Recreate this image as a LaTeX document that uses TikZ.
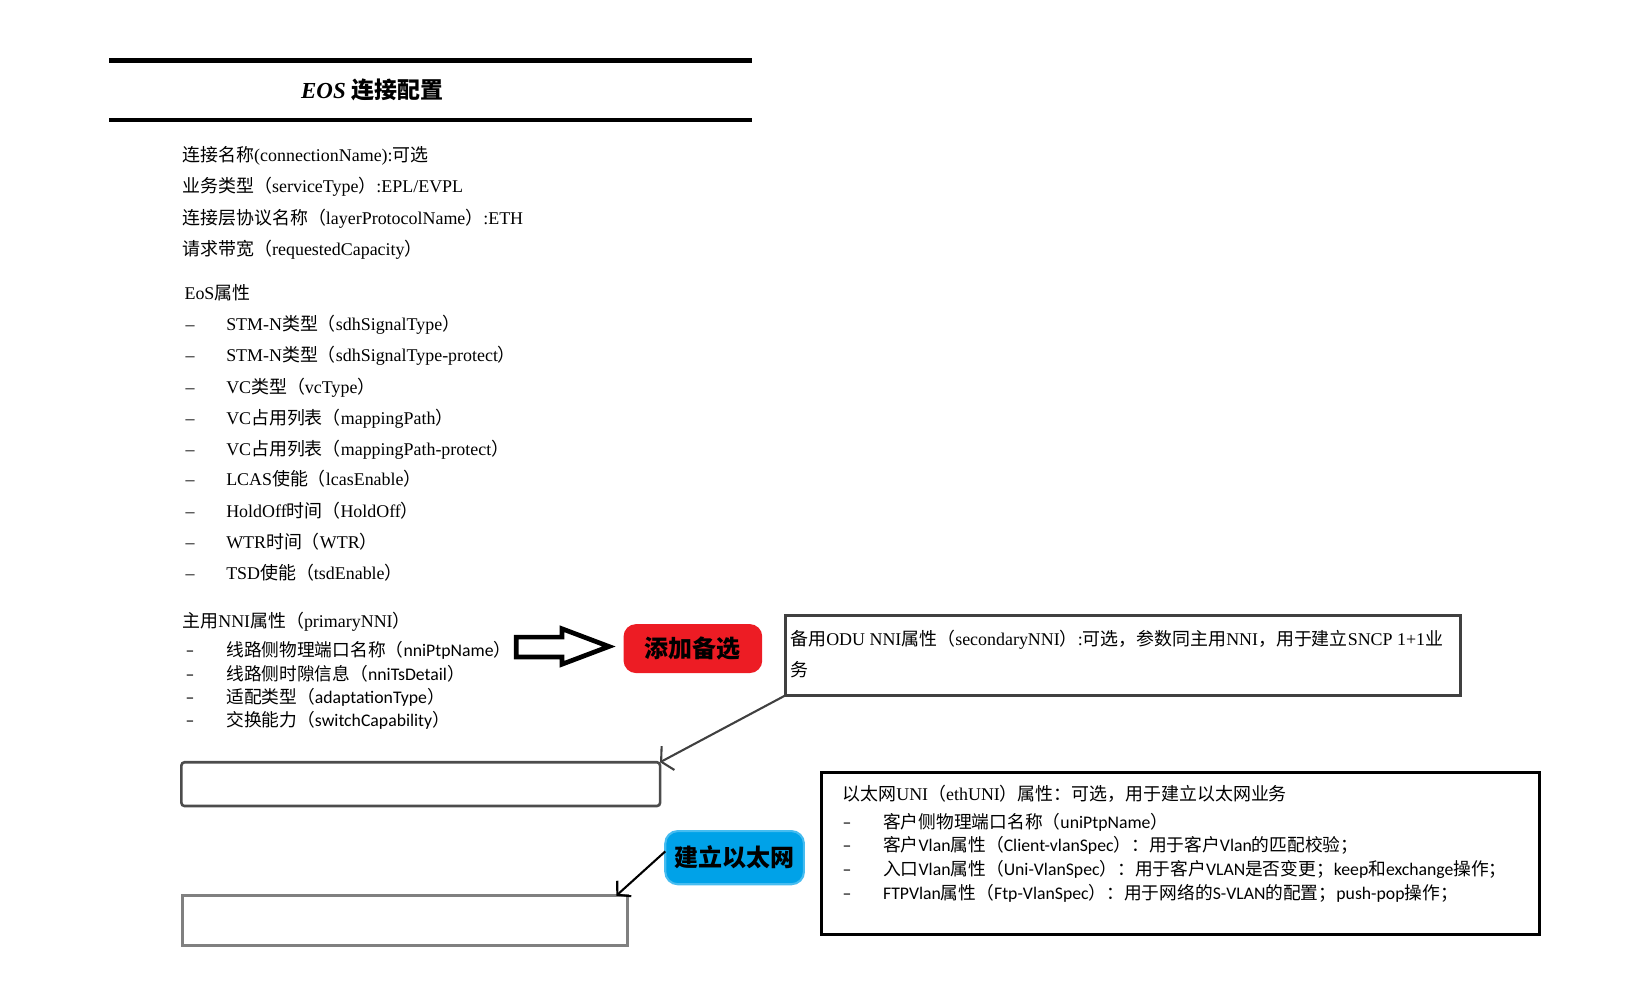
\documentclass[tikz,border=0pt]{standalone}
\usepackage{fontspec}
\setmainfont{Liberation Serif}
\newfontfamily\zhfont{Noto Sans CJK SC}
\newfontfamily\calfont{Carlito}
\newcommand{\zh}[1]{{\zhfont #1}}
\newcommand{\dashitem}{\makebox[39pt][l]{–}}
\usetikzlibrary{arrows.meta}

\definecolor{addred}{RGB}{237,28,36}
\definecolor{ethblue}{RGB}{0,162,232}
\definecolor{ethrim}{RGB}{70,188,240}
\definecolor{rimgray}{RGB}{64,64,64}

\begin{document}
\begin{tikzpicture}[x=1pt,y=-1pt,
		every node/.style={inner sep=0pt,outer sep=0pt},
		txt/.style={anchor=base west,font=\fontsize{17.2}{20}\selectfont},
		cal/.style={anchor=base west,font=\fontsize{17}{20}\selectfont\calfont},
		button/.style={rounded corners=12pt,minimum width=133pt,font=\fontsize{23}{26}\selectfont\zhfont\bfseries},
		slot/.style={anchor=north west,line width=3pt}
	]

	\useasboundingbox (0,0) rectangle (1568,948);

	% Title bar
	\draw[line width=4.5pt] (105,58) -- (721,58);
	\draw[line width=4.5pt] (105,115) -- (721,115);
	\node[font=\fontsize{22}{24}\selectfont\bfseries] (title) at (357,86) {\textit{EOS} \zh{连接配置}};

	% Connection
	\node[txt] (conn) at (175,155) {\zh{连接名称}(connectionName):\zh{可选}};
	\node[txt] (service) at (175,185) {\zh{业务类型（}serviceType\zh{）}:EPL/EVPL};
	\node[txt] (layer) at (175,215) {\zh{连接层协议名称（}layerProtocolName\zh{）}:ETH};
	\node[txt] (capacity) at (175,245) {\zh{请求带宽（}requestedCapacity\zh{）}};

	% EoS
	\node[txt] (eos) at (177,287) {EoS\zh{属性}};
	\node[txt] (eos1) at (178,317) {\dashitem STM-N\zh{类型（}sdhSignalType\zh{）}};
	\node[txt] (eos2) at (178,347) {\dashitem STM-N\zh{类型（}sdhSignalType-protect\zh{）}};
	\node[txt] (eos3) at (178,377) {\dashitem VC\zh{类型（}vcType\zh{）}};
	\node[txt] (eos4) at (178,407) {\dashitem VC\zh{占用列表（}mappingPath\zh{）}};
	\node[txt] (eos5) at (178,437) {\dashitem VC\zh{占用列表（}mappingPath-protect\zh{）}};
	\node[txt] (eos6) at (178,466) {\dashitem LCAS\zh{使能（}lcasEnable\zh{）}};
	\node[txt] (eos7) at (178,496) {\dashitem HoldOff\zh{时间（}HoldOff\zh{）}};
	\node[txt] (eos8) at (178,526) {\dashitem WTR\zh{时间（}WTR\zh{）}};
	\node[txt] (eos9) at (178,556) {\dashitem TSD\zh{使能（}tsdEnable\zh{）}};

	% Primary NNI
	\node[txt] (nni) at (175,602) {\zh{主用}NNI\zh{属性（}primaryNNI\zh{）}};
	\node[cal] (nni1) at (178,630) {\dashitem\zh{线路侧物理端口名称（}nniPtpName\zh{）}};
	\node[cal] (nni2) at (178,653) {\dashitem\zh{线路侧时隙信息（}nniTsDetail\zh{）}};
	\node[cal] (nni3) at (178,675) {\dashitem\zh{适配类型（}adaptationType\zh{）}};
	\node[cal] (nni4) at (178,697) {\dashitem\zh{交换能力（}switchCapability\zh{）}};

	% Add secondary
	\draw[line width=4.5pt,fill=white] (495,611) -- (539,611) -- (539,603) -- (584,620)
		-- (539,637) -- (539,630) -- (495,630) -- cycle;
	\node[button,fill=addred,minimum height=47pt] (add) at (664.5,622) {添加备选};
	\node[slot,draw=rimgray,minimum width=648pt,minimum height=77pt] (sec) at (753,590) {};
	\node[txt] (sec1) at (758,619) {\zh{备用}ODU NNI\zh{属性（}secondaryNNI\zh{）}:\zh{可选，参数同主用}NNI\zh{，用于建立}SNCP 1+1\zh{业}};
	\node[txt] (sec2) at (758,649) {\zh{务}};
	\node[slot,draw=black!70,line width=2.5pt,rounded corners=3pt,minimum width=459pt,minimum height=42pt] (slot1) at (174,731) {};
	\draw[rimgray,line width=2pt,-{Straight Barb[length=7.5pt,width=26pt]}] (sec.south west) -- (slot1.north east);

	% Ethernet
	\node[button,fill=ethblue,draw=ethrim,line width=2pt,minimum height=51pt] (est) at (704.5,822.5) {建立以太网};
	\node[slot,draw=black!50,minimum width=427pt,minimum height=48pt] (slot2) at (175,859) {};
	\draw[line width=2pt,-{Straight Barb[length=9pt,width=20pt]}] ([yshift=6pt]est.west) -- ([xshift=-11pt]slot2.north east);
	\node[slot,draw=black,minimum width=688pt,minimum height=155pt] (eth) at (788,741) {};
	\node[txt] (eth0) at (808,768) {\zh{以太网}UNI\zh{（}ethUNI\zh{）属性：可选，用于建立以太网业务}};
	\node[cal] (eth1) at (808,795) {\dashitem\zh{客户侧物理端口名称（}uniPtpName\zh{）}};
	\node[cal] (eth2) at (808,817) {\dashitem\zh{客户}Vlan\zh{属性（}Client-vlanSpec\zh{）：用于客户}Vlan\zh{的匹配校验；}};
	\node[cal] (eth3) at (808,840) {\dashitem\zh{入口}Vlan\zh{属性（}Uni-VlanSpec\zh{）：用于客户}VLAN\zh{是否变更；}keep\zh{和}exchange\zh{操作；}};
	\node[cal] (eth4) at (808,863) {\dashitem FTPVlan\zh{属性（}Ftp-VlanSpec\zh{）：用于网络的}S-VLAN\zh{的配置；}push-pop\zh{操作；}};

\end{tikzpicture}
\end{document}
